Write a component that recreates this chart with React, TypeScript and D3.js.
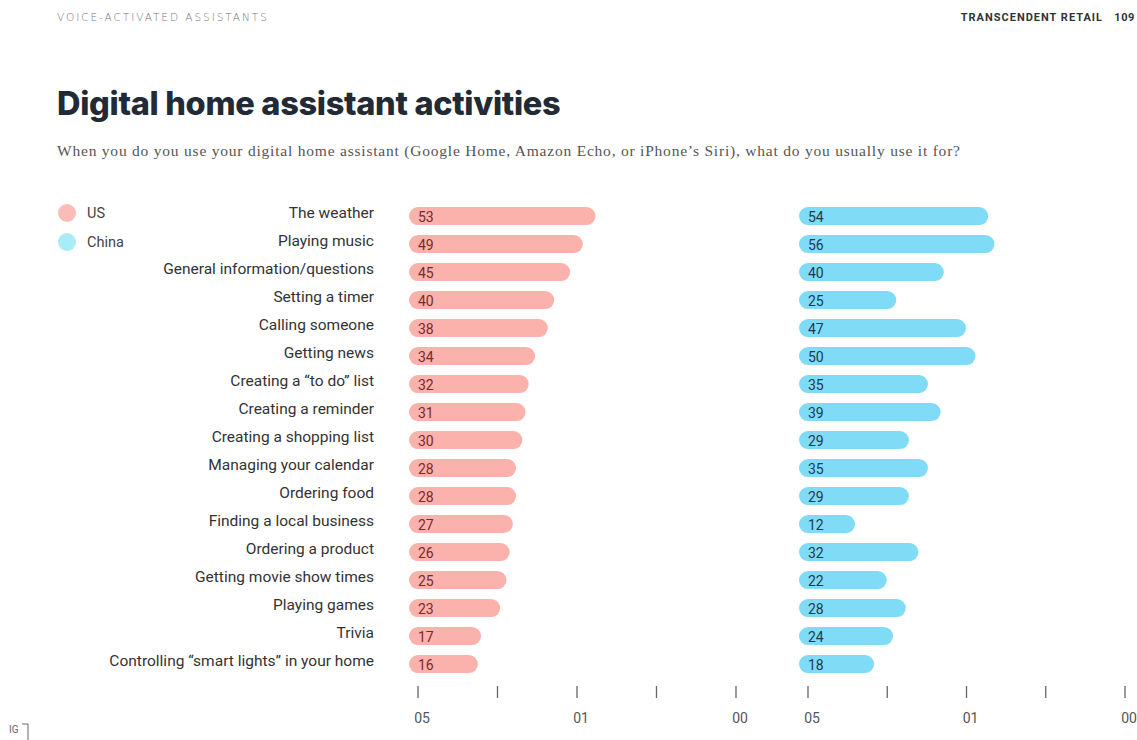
import React from "react";
import * as d3 from "d3";

const categories = [
  "The weather",
  "Playing music",
  "General information/questions",
  "Setting a timer",
  "Calling someone",
  "Getting news",
  "Creating a \u201cto do\u201d list",
  "Creating a reminder",
  "Creating a shopping list",
  "Managing your calendar",
  "Ordering food",
  "Finding a local business",
  "Ordering a product",
  "Getting movie show times",
  "Playing games",
  "Trivia",
  "Controlling \u201csmart lights\u201d in your home",
];
const usValues = [53, 49, 45, 40, 38, 34, 32, 31, 30, 28, 28, 27, 26, 25, 23, 17, 16];
const chinaValues = [54, 56, 40, 25, 47, 50, 35, 39, 29, 35, 29, 12, 32, 22, 28, 24, 18];
const tickValues = [0, 25, 50, 75, 100];
const tickLabels: Record<number, string> = { 0: "05", 50: "01", 100: "00" };
const seriesNames = ["US", "China"];

const W = 1137;
const H = 740;

export default function App() {
  const y = d3
    .scaleBand<string>()
    .domain(categories)
    .range([202, 678])
    .paddingInner(0.36)
    .paddingOuter(0.18);
  const xUS = d3.scaleLinear().domain([0, 100]).range([418, 736]);
  const xCN = d3.scaleLinear().domain([0, 100]).range([808, 1125]);
  const bh = 18;
  const cap = 9;

  const panels = [
    { x: xUS, vals: usValues, fill: "#fbb1ac", text: "#7a2a26" },
    { x: xCN, vals: chinaValues, fill: "#80dcf6", text: "#1d3a52" },
  ];
  const legendColors = ["#fbbcb8", "#a8ecf9"];

  return (
    <svg
      width={W}
      height={H}
      style={{ position: "absolute", left: 0, top: 0, background: "#fff" }}
      fontFamily="Roboto, 'Noto Sans', sans-serif"
    >
      <rect width={W} height={H} fill="#fff" />
      <text x={57} y={21} fontSize={10.5} fill="#777" letterSpacing={1.95} fontFamily="'DejaVu Sans', sans-serif" fontWeight={300}>
        VOICE-ACTIVATED ASSISTANTS
      </text>
      <text x={1103} y={21} fontSize={11} fill="#333" textAnchor="end" fontWeight={700} letterSpacing={1}>
        TRANSCENDENT RETAIL
      </text>
      <text x={1135} y={21} fontSize={11} fill="#333" textAnchor="end" fontWeight={700} letterSpacing={0.6}>
        109
      </text>
      <text x={57} y={115} fontSize={32.5} fontWeight={800} fill="#222a35" fontFamily="Inter, sans-serif" letterSpacing={-0.3}>
        Digital home assistant activities
      </text>
      <text
        x={57}
        y={156}
        fontSize={15.5}
        fill="#555"
        fontFamily="'Liberation Serif', serif"
        textLength={903}
        lengthAdjust="spacing"
      >
        When you do you use your digital home assistant (Google Home, Amazon Echo, or iPhone’s Siri), what do you usually use it for?
      </text>

      {seriesNames.map((n, i) => (
        <g key={n}>
          <circle cx={67} cy={213 + i * 29} r={9} fill={legendColors[i]} />
          <text x={87} y={218 + i * 29} fontSize={14.5} fill="#444">
            {n}
          </text>
        </g>
      ))}

      {categories.map((c) => (
        <text
          key={c}
          x={374}
          y={(y(c) ?? 0) + bh / 2 + 2}
          fontSize={15.5}
          fill="#333"
          textAnchor="end"
        >
          {c}
        </text>
      ))}

      {panels.map((p, pi) => (
        <g key={pi}>
          {categories.map((c, i) => {
            const v = p.vals[i];
            const x0 = p.x(0) - cap;
            const x1 = p.x(v) + cap;
            const yy = y(c) ?? 0;
            return (
              <g key={c}>
                <rect x={x0} y={yy} width={x1 - x0} height={bh} rx={cap} ry={cap} fill={p.fill} />
                <text x={p.x(0)} y={yy + 14.5} fontSize={14} fill={p.text}>
                  {v}
                </text>
              </g>
            );
          })}
          {tickValues.map((t) => (
            <g key={t}>
              <line x1={p.x(t)} x2={p.x(t)} y1={686} y2={698} stroke="#666" strokeWidth={1.3} />
              {tickLabels[t] !== undefined && (
                <text x={p.x(t) + 4} y={723} fontSize={14} fill="#555" textAnchor="middle">
                  {tickLabels[t]}
                </text>
              )}
            </g>
          ))}
        </g>
      ))}

      <text x={9} y={733} fontSize={10} fill="#666">IG</text>
      <path d="M22,724 H28 V740" fill="none" stroke="#666" strokeWidth={1} />
    </svg>
  );
}
